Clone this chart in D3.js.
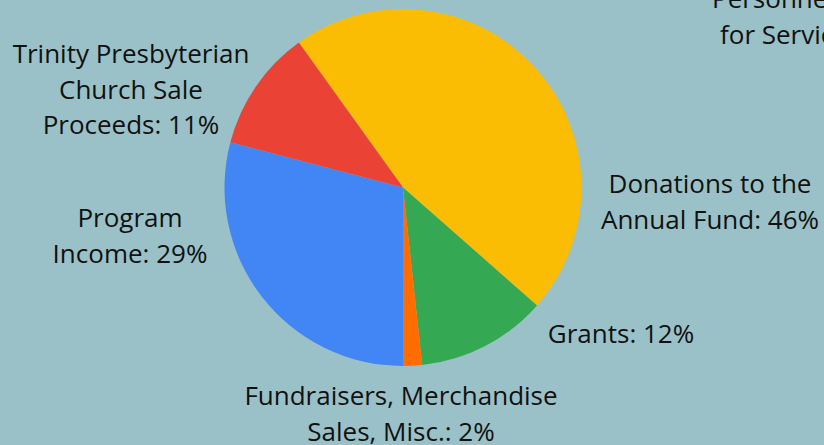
<!DOCTYPE html>
<html>
<head>
<meta charset="utf-8">
<script src="https://cdn.jsdelivr.net/npm/d3@7"></script>
<style>
  html, body { margin: 0; padding: 0; background: #9ac1c8; overflow: hidden; }
  svg { display: block; }
</style>
</head>
<body>
<svg id="svg"></svg>
<script>
// slices, clockwise from the top-left edge of the yellow one
const categories = [
    'Donations to the Annual Fund',
    'Grants',
    'Fundraisers, Merchandise Sales, Misc.',
    'Program Income',
    'Trinity Presbyterian Church Sale Proceeds'
];
const shares = [46.4, 11.8, 1.7, 29.1, 11.0];
const labelLines = [
    ['Donations to the', 'Annual Fund: 46%'],
    ['Grants: 12%'],
    ['Fundraisers, Merchandise', 'Sales, Misc.: 2%'],
    ['Program', 'Income: 29%'],
    ['Trinity Presbyterian', 'Church Sale', 'Proceeds: 11%']
];
const colors = ['#fbbc04', '#34a853', '#ff6d01', '#4285f4', '#ea4335'];

// where each label sits (centre x, first baseline)
const labelPos = [[710, 193], [621, 343], [401, 405], [130, 227], [131, 63]];

const width = 824, height = 445;
const cx = 403, cy = 187.5, radius = 178.5;
const lineHeight = 35.5;

const svg = d3.select('#svg')
    .attr('width', width)
    .attr('height', height);

const pie = d3.pie()
    .sort(null)
    .value(d => d)
    .startAngle(-35.7 * Math.PI / 180)
    .endAngle(-35.7 * Math.PI / 180 + 2 * Math.PI);

const arc = d3.arc().innerRadius(0).outerRadius(radius);

svg.append('g')
    .attr('transform', `translate(${cx},${cy})`)
    .selectAll('path')
    .data(pie(shares))
    .join('path')
    .attr('d', arc)
    .attr('fill', (d, i) => colors[i]);

const labels = svg.append('g')
    .attr('font-family', '"Open Sans", sans-serif')
    .attr('font-size', 26)
    .attr('fill', '#111');

labelLines.forEach((lines, i) => {
    let t = labels.append('text')
        .attr('text-anchor', 'middle')
        .attr('x', labelPos[i][0])
        .attr('y', labelPos[i][1]);
    lines.forEach((ln, j) => {
        t.append('tspan')
            .attr('x', labelPos[i][0])
            .attr('dy', j == 0 ? 0 : lineHeight)
            .text(ln);
    });
});

// label of another slice, cut off by the top-right corner
const cutText = labels.append('text').attr('text-anchor', 'start');
cutText.append('tspan').attr('x', 712).attr('y', 8).text('Personnel');
cutText.append('tspan').attr('x', 720).attr('y', 43.5).text('for Services');
</script>
</body>
</html>
